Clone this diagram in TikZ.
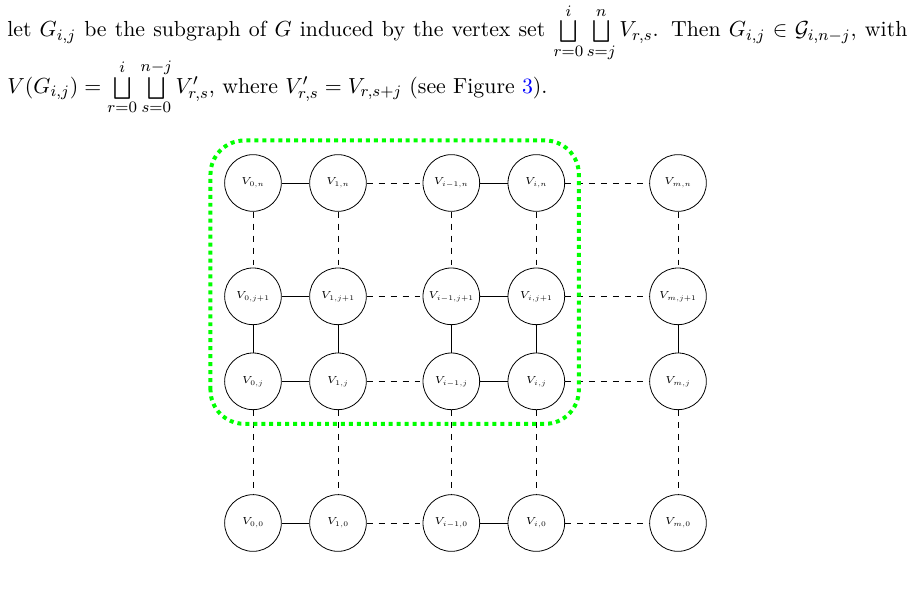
\RequirePackage{fix-cm}
\documentclass[tikz,border=0pt]{standalone}
\usepackage{amsmath}
\usepackage{amssymb}
\usepackage{tikz}

\begin{document}
\begin{tikzpicture}[
    vertex/.style={draw, circle, minimum size=1cm, inner sep=0pt, font=\fontsize{5.1}{6}\selectfont},
    textline/.style={anchor=base west, inner sep=0pt, font=\fontsize{10.95}{13.6}\selectfont},
  ]
  \useasboundingbox (-4.464,-1.5) rectangle (11.682,9.229);

  % the two lines of running text above the figure
  \node[textline] (line1) at (-4.341,8.58)
    {\makebox[451.9pt][s]{let $G_{i,j}$ be the subgraph of $G$ induced by the vertex set
     $\bigsqcup\limits_{r=0}^{i}\bigsqcup\limits_{s=j}^{n} V_{r,s}$. Then
     $G_{i,j}\in\mathcal{G}_{i,n-j}$, with}};
  \node[textline] (line2) at (-4.341,7.58)
    {$V(G_{i,j})=\bigsqcup\limits_{r=0}^{i}\bigsqcup\limits_{s=0}^{n-j} V'_{r,s}$, where
     $V'_{r,s}=V_{r,s+j}$ (see Figure \textcolor{blue}{3}).};

  % grid of vertex sets
  \foreach \x/\c/\cl in {0/0/0, 1.5/1/1, 3.5/i1/{i-1}, 5/i/i, 7.5/m/m}
    \foreach \y/\r/\rl in {6/n/n, 4/j1/{j+1}, 2.5/j/j, 0/0/0}
      \node[vertex] (v\c-\r) at (\x,\y) {$V_{\cl,\rl}$};

  \foreach \r in {n,j1,j,0} {
    \draw (v0-\r) -- (v1-\r);
    \draw[dashed] (v1-\r) -- (vi1-\r);
    \draw (vi1-\r) -- (vi-\r);
    \draw[dashed] (vi-\r) -- (vm-\r);
  }
  \foreach \c in {0,1,i1,i,m} {
    \draw[dashed] (v\c-n) -- (v\c-j1);
    \draw (v\c-j1) -- (v\c-j);
    \draw[dashed] (v\c-j) -- (v\c-0);
  }

  % the subgraph G_{i,j}
  \draw[green, line width=2pt, dotted, rounded corners=17pt] (-0.75,1.75) rectangle (5.75,6.75);
  %\draw[red] (-0.75,1.75) rectangle (5.75,6.75);
\end{tikzpicture}
\end{document}
